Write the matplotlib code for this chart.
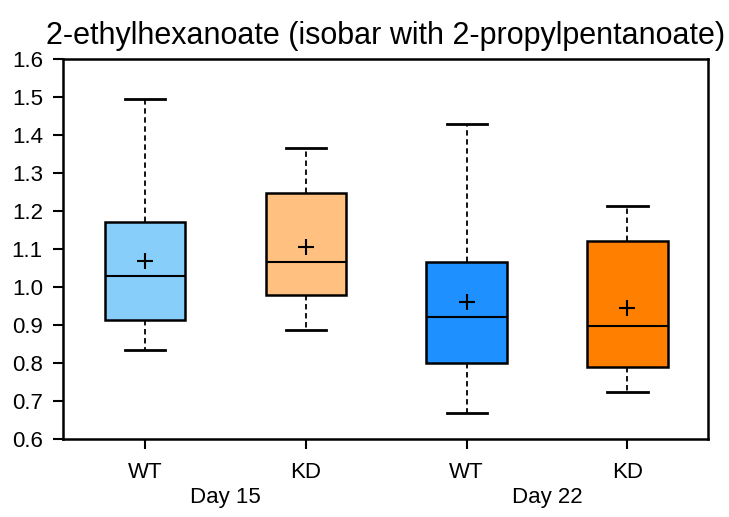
import matplotlib.pyplot as plt

plt.rcParams['font.family'] = ['Liberation Sans', 'DejaVu Sans']

# summary statistics
groups = ['WT', 'KD', 'WT', 'KD']
days = ['Day 15', 'Day 22']
whis_lo = [0.834, 0.886, 0.668, 0.723]
q1 = [0.912, 0.980, 0.800, 0.790]
medians = [1.028, 1.065, 0.920, 0.897]
means = [1.067, 1.104, 0.960, 0.944]
q3 = [1.170, 1.248, 1.065, 1.122]
whis_hi = [1.495, 1.366, 1.429, 1.214]
colors = ['#87CEFA', '#FFC080', '#1E90FF', '#FF8000']

stats = []
for i in range(len(groups)):
    stats.append(dict(med=medians[i], q1=q1[i], q3=q3[i], whislo=whis_lo[i],
                      whishi=whis_hi[i], mean=means[i], fliers=[]))

fig, ax = plt.subplots(figsize=(7.29, 5.17), dpi=100)
fig.subplots_adjust(left=0.0864, right=0.971, top=0.886, bottom=0.151)

positions = [1, 2, 3, 4]
bp = ax.bxp(stats, positions=positions, widths=0.5, showmeans=True,
            patch_artist=True, showfliers=False,
            boxprops=dict(edgecolor='black', linewidth=1.8),
            medianprops=dict(color='black', linewidth=1.5),
            whiskerprops=dict(color='black', linestyle=(0, (3, 2)), linewidth=1.3),
            capprops=dict(color='black', linewidth=2),
            meanprops=dict(marker='+', markeredgecolor='black', markersize=12,
                           markeredgewidth=1.5),
            capwidths=0.25)
for patch, c in zip(bp['boxes'], colors):
    patch.set_facecolor(c)

ax.set_xlim(0.49, 4.5)
ax.set_ylim(0.6, 1.6)
ax.set_yticks([0.6 + 0.1 * i for i in range(11)])
ax.set_yticklabels([f'{0.6 + 0.1 * i:.1f}' for i in range(11)])
ax.set_xticks(positions)
ax.set_xticklabels(groups)
ax.tick_params(axis='both', direction='out', length=7.5, width=1.5, labelsize=16)
ax.tick_params(axis='y', pad=7)
ax.tick_params(axis='x', pad=9)
for sp in ax.spines.values():
    sp.set_linewidth(1.8)

ax.text(1.5, -0.155, days[0], transform=ax.get_xaxis_transform(),
        ha='center', va='center', fontsize=16)
ax.text(3.5, -0.155, days[1], transform=ax.get_xaxis_transform(),
        ha='center', va='center', fontsize=16)

ax.set_title('2-ethylhexanoate (isobar with 2-propylpentanoate)', fontsize=22, pad=11)

plt.savefig('out.png', dpi=100)
